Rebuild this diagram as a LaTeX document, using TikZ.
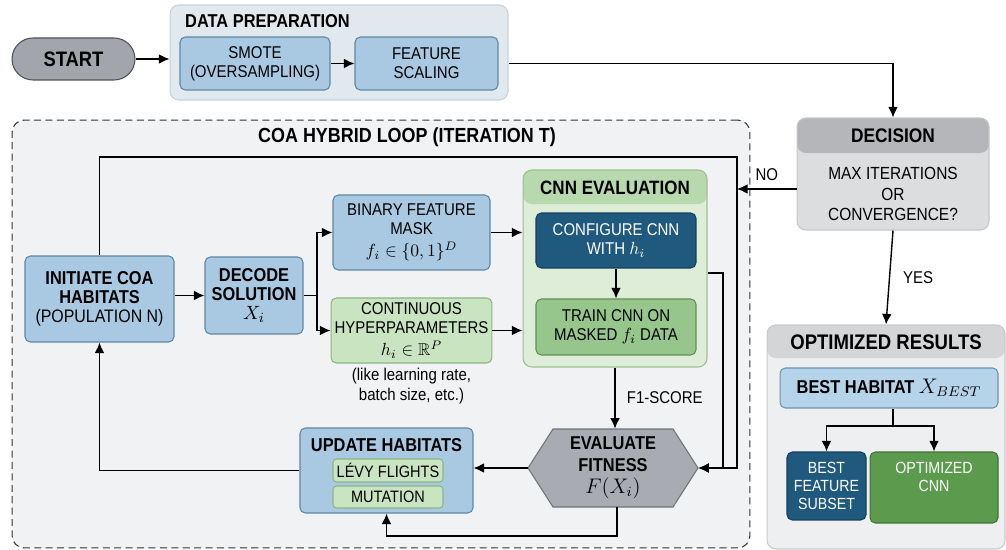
\documentclass[tikz,border=0pt]{standalone}
\usepackage{fontspec}
\usepackage{amssymb}
\setmainfont[FakeStretch=0.88]{Liberation Sans}
\usetikzlibrary{arrows.meta}

\definecolor{blueFill}{HTML}{A9C9E2}
\definecolor{blueLine}{HTML}{5E86A2}
\definecolor{greenFill}{HTML}{C9E4C1}
\definecolor{greenLine}{HTML}{8DB582}
\definecolor{darkBlue}{HTML}{1F5A7E}
\definecolor{darkLine}{HTML}{143F5B}
\definecolor{trainFill}{HTML}{96C68B}
\definecolor{trainLine}{HTML}{5F8F54}
\definecolor{deepGreen}{HTML}{5C9B4D}
\definecolor{deepLine}{HTML}{3F7433}
\definecolor{startFill}{HTML}{A2A6AC}
\definecolor{startLine}{HTML}{4F5358}
\definecolor{hexFill}{HTML}{A8ACB2}
\definecolor{hexLine}{HTML}{6E7378}
\definecolor{prepFill}{HTML}{E2E9EE}
\definecolor{prepLine}{HTML}{C8D3DB}
\definecolor{loopFill}{HTML}{F1F2F3}
\definecolor{cnnBody}{HTML}{DDEDD7}
\definecolor{cnnHead}{HTML}{B8D8AE}
\definecolor{cnnLine}{HTML}{9DC191}
\definecolor{decBody}{HTML}{DCDDDF}
\definecolor{decHead}{HTML}{B4B6B9}
\definecolor{decLine}{HTML}{C4C6C9}
\definecolor{resBody}{HTML}{EEEFF0}
\definecolor{resHead}{HTML}{D4D5D7}
\definecolor{resLine}{HTML}{C9CACC}
\definecolor{bestFill}{HTML}{B5D3E9}
\definecolor{bestLine}{HTML}{6E93AE}

\tikzset{band/.style 2 args={path picture={\fill[#1] (path picture bounding box.north west) rectangle ([yshift=-#2]path picture bounding box.north east);}}}

\begin{document}
\begin{tikzpicture}[x=0.02cm, y=-0.02cm, >={Latex[length=6pt,width=5.5pt]}]
	\tikzstyle{box_blue} = [rectangle, rounded corners=3pt, draw=blueLine, fill=blueFill, line width=0.6pt, align=center, inner sep=2pt, font=\fontsize{9.7}{11}\selectfont]
	\tikzstyle{box_green} = [box_blue, draw=greenLine, fill=greenFill]
	\tikzstyle{box_dark} = [box_blue, draw=darkLine, fill=darkBlue, text=white]
	\tikzstyle{box_train} = [box_blue, draw=trainLine, fill=trainFill]
	\tikzstyle{group_box} = [rectangle, rounded corners=5pt, line width=0.6pt]
	\tikzstyle{txt_title} = [align=center, font=\fontsize{10.6}{12.5}\selectfont\bfseries]
	\tikzstyle{txt_plain} = [align=center, font=\fontsize{9.7}{11}\selectfont]
	\tikzstyle{wire} = [line width=0.8pt, black]

%------------------------------------------------------------
	\useasboundingbox (0,0) rectangle (1006,550);

	\node[group_box, fill=loopFill, draw=black!80, dash pattern=on 4pt off 2.5pt, rounded corners=7pt, minimum width=14.76cm, minimum height=8.56cm] (loop) at (381,334) {};
	\node[txt_title, font=\fontsize{11.6}{13}\selectfont\bfseries] (loop_title) at (407,137) {COA HYBRID LOOP (ITERATION T)};

	\node[group_box, fill=prepFill, draw=prepLine, minimum width=6.76cm, minimum height=1.9cm] (prep) at (339,52.5) {};
	\node[txt_title, anchor=west] (prep_title) at (179,21) {DATA PREPARATION};

	\node[group_box, fill=cnnBody, draw=cnnLine, band={cnnHead}{0.68cm}, minimum width=3.68cm, minimum height=3.94cm] (cnn) at (615,268.5) {};
	\node[txt_title, font=\fontsize{11}{13}\selectfont\bfseries] (cnn_title) at (615,188) {CNN EVALUATION};

	\node[group_box, fill=decBody, draw=decLine, band={decHead}{0.7cm}, minimum width=3.84cm, minimum height=2.24cm] (decision) at (893,174) {};
	\node[txt_title, font=\fontsize{11.2}{13}\selectfont\bfseries] (dec_title) at (893,135.5) {DECISION};
	\node[txt_plain, font=\fontsize{10}{11.6}\selectfont] (dec_text) at (893,194) {MAX ITERATIONS\\OR\\CONVERGENCE?};

	\node[group_box, fill=resBody, draw=resLine, band={resHead}{0.66cm}, minimum width=4.76cm, minimum height=4.48cm] (results) at (886,437) {};
	\node[txt_title, font=\fontsize{12}{14}\selectfont\bfseries] (res_title) at (886,342) {OPTIMIZED RESULTS};

%------------------------------------------------------------
	\node[box_blue, draw=startLine, fill=startFill, rounded corners=0.42cm, minimum width=2.46cm, minimum height=0.84cm, font=\fontsize{11.9}{13}\selectfont\bfseries] (start) at (73.5,59) {START};

	\node[box_blue, minimum width=3cm, minimum height=1.06cm] (smote) at (255,63.5) {SMOTE\\(OVERSAMPLING)};
	\node[box_blue, minimum width=2.86cm, minimum height=1.06cm] (feat) at (426.5,63.5) {FEATURE\\SCALING};

%------------------------------------------------------------
	\node[box_blue, minimum width=2.98cm, minimum height=1.72cm] (init) at (99.5,299) {\fontsize{10.6}{12.5}\selectfont\bfseries INITIATE COA\\\fontsize{10.6}{12.5}\selectfont\bfseries HABITATS\\\fontsize{10.3}{12.5}\selectfont (POPULATION N)};
	\node[box_blue, minimum width=1.96cm, minimum height=1.54cm] (decode) at (254,295.5) {\fontsize{10.6}{12.5}\selectfont\bfseries DECODE\\\fontsize{10.6}{12.5}\selectfont\bfseries SOLUTION\\\fontsize{11}{12.5}\selectfont $X_i$};

	\node[box_blue, minimum width=3.14cm, minimum height=1.5cm] (binary) at (411.5,232.5) {BINARY FEATURE\\MASK\\[1.5pt]$f_i \in \{0,1\}^D$};
	\node[box_green, minimum width=3.14cm, minimum height=1.3cm] (cont) at (411.5,330.5) {CONTINUOUS\\HYPERPARAMETERS\\[1.5pt]$h_i \in \mathbb{R}^P$};
	\node[txt_plain] (note) at (411.5,386) {(like learning rate,\\batch size, etc.)};

	\node[box_dark, minimum width=3.2cm, minimum height=1.1cm] (config) at (616,240.5) {CONFIGURE CNN\\WITH $h_i$};
	\node[box_train, minimum width=3.2cm, minimum height=1.12cm] (train) at (616,327) {TRAIN CNN ON\\MASKED $f_i$ DATA};

%------------------------------------------------------------
	\draw[line width=0.6pt, draw=hexLine, fill=hexFill] (528,468) -- (553,429) -- (673,429) -- (698,468) -- (673,507) -- (553,507) -- cycle;
	\node[txt_title, minimum width=3.4cm, minimum height=1.56cm, inner sep=0pt] (hex) at (613,468) {EVALUATE\\FITNESS\\{\fontsize{11.5}{12.5}\selectfont\mdseries $F(X_i)$}};

	\node[box_blue, minimum width=3.46cm, minimum height=1.7cm] (update) at (386.5,470.5) {};
	\node[txt_title] (update_title) at (386.5,445) {UPDATE HABITATS};
	\node[box_green, rounded corners=2pt, minimum width=2.2cm, minimum height=0.46cm, font=\fontsize{9.4}{11}\selectfont] (levy) at (388,470.5) {LÉVY FLIGHTS};
	\node[box_green, rounded corners=2pt, minimum width=2.2cm, minimum height=0.44cm, font=\fontsize{9.4}{11}\selectfont] (mutation) at (388,497) {MUTATION};

%------------------------------------------------------------
	\node[box_blue, draw=bestLine, fill=bestFill, minimum width=4.36cm, minimum height=0.8cm, font=\fontsize{10.6}{12.5}\selectfont\bfseries] (best) at (889,388) {BEST HABITAT {\mdseries\fontsize{11.5}{12}\selectfont $X_{BEST}$}};
	\node[box_dark, minimum width=1.58cm, minimum height=1.36cm, font=\fontsize{9.2}{10.4}\selectfont] (subset) at (826.5,486) {BEST\\FEATURE\\SUBSET};
	\node[box_blue, draw=deepLine, fill=deepGreen, minimum width=2.56cm, minimum height=1.42cm] (optcnn) at (934,487.5) {};
	\node[txt_plain, text=white, font=\fontsize{9.2}{10.4}\selectfont] (optcnn_text) at (934,477) {OPTIMIZED\\CNN};

%------------------------------------------------------------
	\coordinate (split) at (317,295.5);
	\coordinate (loop_ne) at (737,157);
	\coordinate (no_in) at (737,189);
	\coordinate (cnn_out) at (723,273);
	\coordinate (bottom_turn) at (617,536);
	\coordinate (res_split) at (893,426);

	\draw[wire, ->] (start.east) -- (start.east -| prep.west);
	\draw[wire, ->] (smote.east) -- (feat.west);
	\draw[wire, ->] (feat.east -| prep.east) -| (decision.north);

	\draw[wire, ->] (decision.west |- no_in) -- node[above, txt_plain, yshift=1pt] {NO} (no_in);
	\draw[wire, ->] (decision.south) -- node[right, txt_plain, xshift=4pt] {YES} (results.north);

	\draw[wire, ->] (init.east |- decode.west) -- (decode.west);
	\draw[wire] (decode.east) -- (split);
	\draw[wire, ->] (split) |- (binary.west);
	\draw[wire, ->] (split) |- (cont.west);
	\draw[wire, ->] (binary.east) -- (binary.east -| cnn.west);
	\draw[wire, ->] (cont.east) -- (cont.east -| cnn.west);
	\draw[wire, ->] (config.south) -- (train.north);

	\draw[wire, ->] (cnn.east |- cnn_out) -- (cnn_out) |- (hex.east);
	\draw[wire, ->] (init.north) |- (loop_ne) |- (hex.east);
	\draw[wire, ->] (cnn.south) -- node[right, txt_plain, xshift=3pt] {F1-SCORE} (cnn.south |- hex.north);

	\draw[wire, ->] (hex.west) -- (hex.west -| update.east);
	\draw[wire, ->] (update.west) -| (init.south);
	\draw[wire, ->] (hex.south -| bottom_turn) -- (bottom_turn) -| (update.south);

	\draw[wire] (best.south -| res_split) -- (res_split);
	\draw[wire, ->] (res_split) -| (subset.north);
	\draw[wire, ->] (res_split) -| (optcnn.north);

\end{tikzpicture}
\end{document}
